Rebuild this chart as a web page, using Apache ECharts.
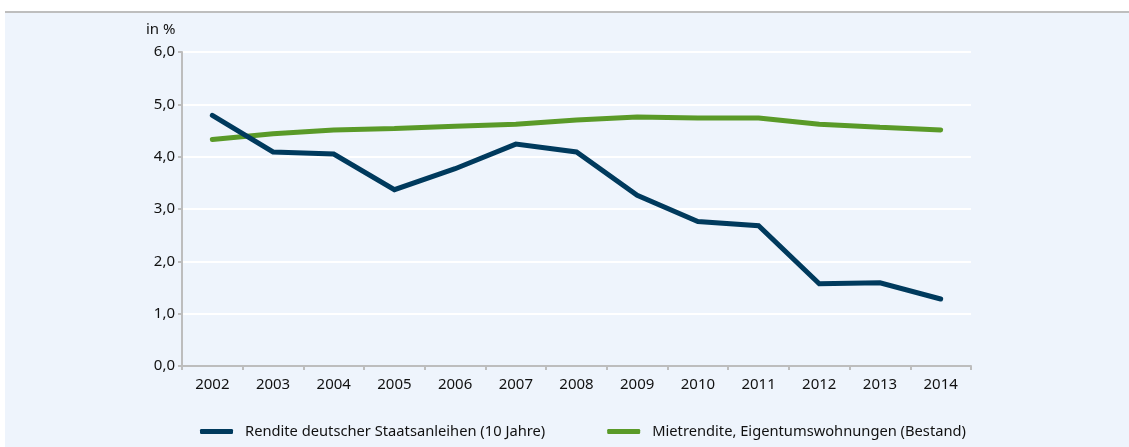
<!DOCTYPE html>
<html>
<head>
<meta charset="utf-8">
<script src="https://cdn.jsdelivr.net/npm/echarts@6/dist/echarts.min.js"></script>
<style>
html,body{margin:0;padding:0;background:#fff;width:1129px;height:447px;overflow:hidden;}
#panel{position:absolute;left:5px;top:11px;width:1124px;height:436px;background:#EEF4FC;border-top:2px solid #BEBEBE;box-sizing:border-box;}
#chart{position:absolute;left:0;top:0;width:1129px;height:447px;}
</style>
</head>
<body>
<div id="panel"></div>
<div id="chart"></div>
<script>
const years = ['2002','2003','2004','2005','2006','2007','2008','2009','2010','2011','2012','2013','2014'];
const bondYield = [4.79, 4.09, 4.05, 3.37, 3.77, 4.24, 4.09, 3.26, 2.76, 2.68, 1.57, 1.59, 1.28];
const rentYield = [4.33, 4.44, 4.51, 4.54, 4.58, 4.62, 4.70, 4.76, 4.74, 4.74, 4.62, 4.56, 4.51];
const seriesNames = ['Rendite deutscher Staatsanleihen (10 Jahre)', 'Mietrendite, Eigentumswohnungen (Bestand)'];
const yUnit = 'in %';

const chart = echarts.init(document.getElementById('chart'), null, {renderer: 'canvas'});
const font = 'Noto Sans';
chart.setOption({
  backgroundColor: 'transparent',
  animation: false,
  textStyle: {fontFamily: font},
  grid: {left: 182, right: 158, top: 52, bottom: 81},
  graphic: [{
    type: 'text', left: 146, top: 22,
    style: {text: yUnit, font: '15px "Noto Sans"', fill: '#111'}
  }],
  legend: {
    left: 195, top: 419,
    itemWidth: 33, itemHeight: 5, itemGap: 62,
    icon: 'roundRect',
    textStyle: {fontFamily: font, fontSize: 14.7, color: '#111', padding: [0, 0, 0, 7]},
    data: seriesNames
  },
  xAxis: {
    type: 'category', data: years, boundaryGap: true,
    axisLine: {lineStyle: {color: '#BDBDBD', width: 2}},
    axisTick: {show: true, length: 4, lineStyle: {color: '#BDBDBD', width: 2}},
    axisLabel: {fontFamily: font, fontSize: 15, color: '#111', margin: 11}
  },
  yAxis: {
    type: 'value', min: 0, max: 6, interval: 1,
    axisLine: {show: true, lineStyle: {color: '#BDBDBD', width: 2}},
    axisTick: {show: true, length: 4, lineStyle: {color: '#BDBDBD', width: 2}},
    splitLine: {show: true, lineStyle: {color: '#FFFFFF', width: 2}},
    axisLabel: {fontFamily: font, fontSize: 15, color: '#111', margin: 7,
      formatter: v => v.toFixed(1).replace('.', ',')}
  },
  series: [
    {name: seriesNames[0], type: 'line', data: bondYield, showSymbol: false, symbol: 'none',
      lineStyle: {color: '#003A5D', width: 5, cap: 'round', join: 'miter'}, itemStyle: {color: '#003A5D'}, z: 3},
    {name: seriesNames[1], type: 'line', data: rentYield, showSymbol: false, symbol: 'none',
      lineStyle: {color: '#5A9A28', width: 5, cap: 'round'}, itemStyle: {color: '#5A9A28'}, z: 2}
  ]
});
</script>
</body>
</html>
